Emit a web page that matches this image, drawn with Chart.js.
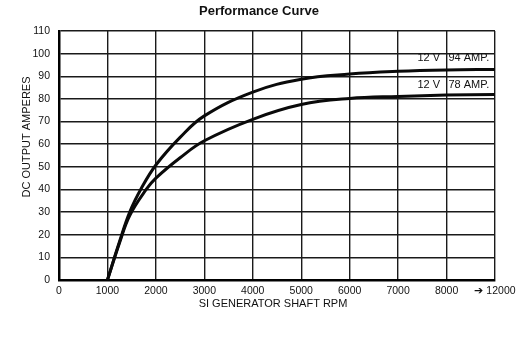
<!DOCTYPE html>
<html>
<head>
<meta charset="utf-8">
<script src="https://cdn.jsdelivr.net/npm/chart.js@4/dist/chart.umd.min.js"></script>
<style>
  html, body { margin: 0; padding: 0; background: #fff; }
  #wrap { width: 530px; height: 338px; }
</style>
</head>
<body>
<div id="wrap"><canvas id="c" width="530" height="338"></canvas></div>
<script>
// ---- Data ----
const chartTitle = 'Performance Curve';
const yAxisTitle = 'DC OUTPUT AMPERES';
const xAxisTitle = 'SI GENERATOR SHAFT RPM';

const xTickValues = [0, 1000, 2000, 3000, 4000, 5000, 6000, 7000, 8000, 9000];
const xTickLabels = ['0', '1000', '2000', '3000', '4000', '5000', '6000', '7000', '8000', '\u2794 12000'];
const yTickValues = [0, 10, 20, 30, 40, 50, 60, 70, 80, 90, 100, 110];

// 12 V 94 AMP. curve
const rpm94  = [1000, 1250, 1460, 1700, 2000, 2500, 3000, 4000, 5000, 6000, 7000, 8000, 9000];
const amps94 = [0,    17,   30,   40.5, 50.8, 63,   72.5, 83,   88.7, 91,   92.2, 92.8, 93];

// 12 V 78 AMP. curve
const rpm78  = [1000, 1250, 1460, 1800, 2000, 2500, 3000, 4000, 5000, 6000, 7000, 8000, 9000];
const amps78 = [0,    16.5, 28.5, 40,   45,   54,   61.5, 71,   77.5, 80.2, 81.1, 81.7, 82];

const curveLabels = [
  { volt: '12 V', amp: '94 AMP.', xVolt: 7400, xAmp: 8040, y: 98.2 },
  { volt: '12 V', amp: '78 AMP.', xVolt: 7400, xAmp: 8040, y: 86.2 }
];

// ---- Chart ----
const FONT = '"Liberation Sans", Arial, Helvetica, sans-serif';

const textPlugin = {
  id: 'textPlugin',
  afterDraw(chart) {
    const ctx = chart.ctx;
    const xs = chart.scales.x, ys = chart.scales.y;
    const ca = chart.chartArea;
    ctx.save();
    ctx.fillStyle = '#111';
    ctx.font = 'bold 13px ' + FONT;
    ctx.textAlign = 'center';
    ctx.textBaseline = 'middle';
    ctx.fillText(chartTitle, 259, 11);
    ctx.font = '11px ' + FONT;
    ctx.fillText(xAxisTitle, (ca.left + ca.right) / 2 - 4, 304);
    ctx.save();
    ctx.translate(27, 137);
    ctx.rotate(-Math.PI / 2);
    ctx.fillText(yAxisTitle, 0, 0);
    ctx.restore();
    ctx.font = '11px ' + FONT;
    ctx.textAlign = 'left';
    curveLabels.forEach(l => {
      const py = ys.getPixelForValue(l.y);
      ctx.fillText(l.volt, xs.getPixelForValue(l.xVolt), py);
      ctx.fillText(l.amp, xs.getPixelForValue(l.xAmp), py);
    });
    ctx.restore();
  }
};

function series(label, xs, ys) {
  return {
    label,
    data: xs.map((x, i) => ({ x, y: ys[i] })),
    borderColor: '#0a0a0a',
    borderWidth: 3,
    pointRadius: 0,
    tension: 0.4,
    fill: false
  };
}

new Chart(document.getElementById('c'), {
  type: 'line',
  data: {
    datasets: [
      series('12 V 94 AMP.', rpm94, amps94),
      series('12 V 78 AMP.', rpm78, amps78)
    ]
  },
  options: {
    responsive: false,
    animation: false,
    devicePixelRatio: 1,
    layout: { padding: { left: 0, right: 35, top: 31, bottom: 0 } },
    plugins: {
      legend: { display: false },
      title: { display: false },
      tooltip: { enabled: false }
    },
    scales: {
      x: {
        type: 'linear',
        min: 0, max: 9000,
        afterBuildTicks(scale) { scale.ticks = xTickValues.map(v => ({ value: v })); },
        afterFit(scale) { scale.height = 58; },
        ticks: {
          color: '#111',
          font: { family: FONT, size: 10.5 },
          padding: 5,
          maxRotation: 0,
          autoSkip: false,
          callback: (v) => xTickLabels[xTickValues.indexOf(v)]
        },
        grid: { color: '#1a1a1a', lineWidth: 1.4, drawTicks: false },
        border: { color: '#000', width: 2.5 }
      },
      y: {
        type: 'linear',
        min: 0, max: 110,
        afterBuildTicks(scale) { scale.ticks = yTickValues.map(v => ({ value: v })); },
        afterFit(scale) { scale.width = 59; },
        ticks: {
          color: '#111',
          font: { family: FONT, size: 10.5 },
          padding: 9,
          autoSkip: false
        },
        grid: { color: '#1a1a1a', lineWidth: 1.4, drawTicks: false },
        border: { color: '#000', width: 2.5 }
      }
    }
  },
  plugins: [textPlugin]
});
</script>
</body>
</html>
